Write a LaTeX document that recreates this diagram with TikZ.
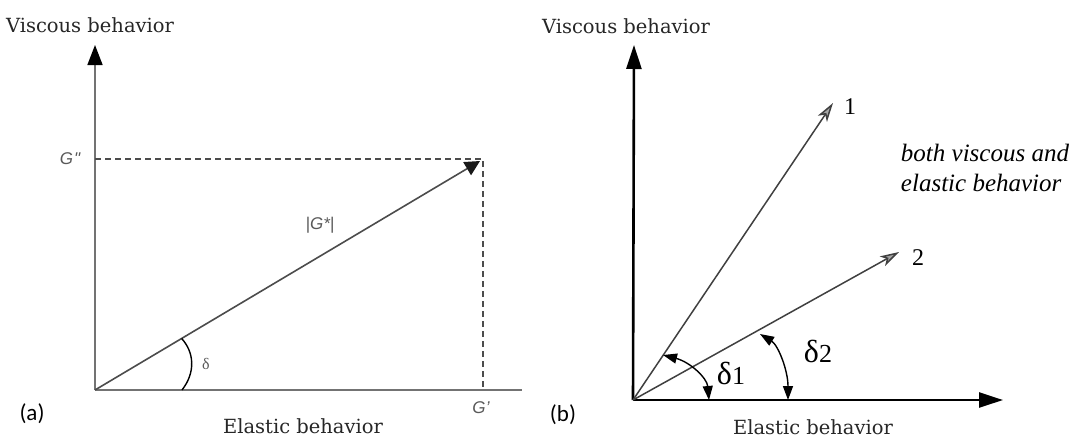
\documentclass[tikz,border=0pt]{standalone}
\usepackage{fontspec}
\setmainfont{Liberation Serif}
\newfontfamily\calibrifont{Carlito}
\newfontfamily\arialfont{Liberation Sans}
\newfontfamily\slabfont{DejaVu Serif}
\usetikzlibrary{arrows.meta, positioning, calc}

\begin{document}
\begin{tikzpicture}[x=1pt, y=-1pt,
    axislabel/.style={font=\slabfont\fontsize{19.5}{19.5}\selectfont, text=black!85},
    panellabel/.style={font=\calibrifont\fontsize{23}{23}\selectfont},
    qlabel/.style={font=\arialfont\itshape\fontsize{17}{17}\selectfont, text=black!65},
    numlabel/.style={font=\fontsize{24}{24}\selectfont}]
  \useasboundingbox (0,0) rectangle (1086,439);
  % panel (a)
  \coordinate (oa) at (95,390);
  \coordinate (ya) at (95,45);
  \coordinate (xa) at (522,390);
  \coordinate (ca) at (483,159);
  \coordinate (ta) at (480,161);
  \draw[black!55, line width=1.6pt] (oa)--(xa);
  \draw[black!55, line width=1.6pt, -{Triangle[length=20pt, width=15pt, black]}] (oa)--(ya);
  \draw[black!70, line width=1.2pt, dash pattern=on 6pt off 4pt] ($(oa)!(ca)!(ya)$)--(ca)--($(oa)!(ca)!(xa)$);
  \draw[black!70, line width=1.6pt, -{Triangle[length=15pt, width=15pt, black!90]}] (oa)--(ta);
  \coordinate (da1) at (182,390);
  \coordinate (da2) at ($(oa)!0.225!(ta)$);
  \draw[black, line width=1.4pt] (da1) .. controls (196,372) and (194,352) .. (da2);
  \node[qlabel] (gpp) at (70,159) {G\kern1pt\textquotedbl};
  \node[qlabel] (gs) at (320,225) {|G*|};
  \node[qlabel] (gp) at (481,408) {G\kern0.5pt\textquoteright};
  \node[qlabel, font=\fontsize{16}{16}\selectfont] (da) at (206,364) {δ};
  \node[axislabel] (va) at (90,25) {Viscous behavior};
  \node[axislabel] (ea) at (303,426) {Elastic behavior};
  \node[panellabel] (pa) at (32,414) {(a)};
  % panel (b)
  \coordinate (ob) at (633,400);
  \coordinate (yb) at (634,45);
  \coordinate (xb) at (1003,400);
  \coordinate (v1) at (833,103);
  \coordinate (v2) at (899,252);
  \draw[black, line width=2.6pt, -{Triangle[length=24pt, width=15pt]}] (ob)--(yb);
  \draw[black, line width=2.6pt, -{Triangle[length=24pt, width=15pt]}] (ob)--(xb);
  \draw[black!75, line width=1.5pt, -{Stealth[length=19pt, width=11pt, inset=5pt, fill=black!35]}] (ob)--(v1);
  \draw[black!75, line width=1.5pt, -{Stealth[length=19pt, width=11pt, inset=5pt, fill=black!35]}] (ob)--(v2);
  \coordinate (d1a) at (663,355);
  \coordinate (d1b) at (709,400);
  \coordinate (d2a) at (760,334);
  \coordinate (d2b) at (788,400);
  \draw[black, line width=1.4pt, {Triangle[length=14pt, width=10pt]}-{Triangle[length=14pt, width=10pt]}] (d1a) .. controls (690,362) and (707,378) .. (d1b);
  \draw[black, line width=1.4pt, {Triangle[length=14pt, width=10pt]}-{Triangle[length=14pt, width=10pt]}] (d2a) .. controls (778,345) and (788,370) .. (d2b);
  \node[numlabel] (n1) at (850,107) {1};
  \node[numlabel] (n2) at (918,258) {2};
  \node[font=\fontsize{32}{32}\selectfont, inner sep=0pt] (db1) at (731,373) {δ\fontsize{26}{26}\selectfont1};
  \node[font=\fontsize{32}{32}\selectfont, inner sep=0pt] (db2) at (818,351) {δ\fontsize{26}{26}\selectfont2};
  \node[font=\itshape\fontsize{25}{30}\selectfont, align=left] (both) at (985,168) {both viscous and\\elastic behavior};
  \node[axislabel] (vb) at (626,26) {Viscous behavior};
  \node[axislabel] (eb) at (813,427) {Elastic behavior};
  \node[panellabel] (pb) at (563,415) {(b)};
\end{tikzpicture}
\end{document}
